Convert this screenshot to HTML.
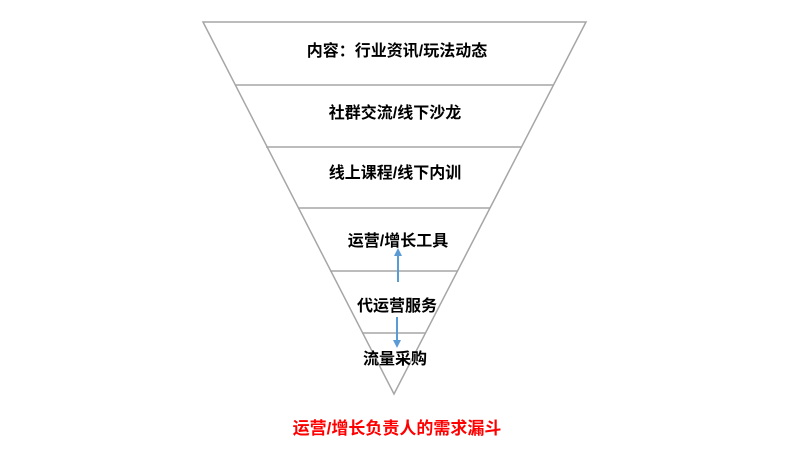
<!DOCTYPE html>
<html><head><meta charset="utf-8"><style>
html,body{margin:0;padding:0;background:#fff;}
svg{display:block;}
text{font-family:"Liberation Sans","Noto Sans CJK SC",sans-serif;font-weight:bold;font-size:16px;text-anchor:middle;}
</style></head><body>
<svg width="803" height="450" viewBox="0 0 803 450" xmlns="http://www.w3.org/2000/svg">
<defs>
<marker id="ah" markerWidth="8" markerHeight="8" refX="4" refY="4" orient="auto" markerUnits="userSpaceOnUse">
<path d="M0,0 L8,4 L0,8 z" fill="#5b9bd5"/>
</marker>
</defs>
<polygon points="203,22 586,22 394,394" fill="#fff" stroke="#a6a6a6" stroke-width="1.5"/>
<g stroke="#a6a6a6" stroke-width="1.5">
<line x1="235" y1="85" x2="554" y2="85"/>
<line x1="266" y1="147" x2="522" y2="147"/>
<line x1="298" y1="208" x2="490" y2="208"/>
<line x1="330" y1="271" x2="458" y2="271"/>
<line x1="362" y1="333" x2="426" y2="333"/>
</g>
<text x="397" y="56">内容：行业资讯/玩法动态</text>
<text x="395" y="118">社群交流/线下沙龙</text>
<text x="395" y="178">线上课程/线下内训</text>
<text x="398" y="246">运营/增长工具</text>
<text x="397" y="311">代运营服务</text>
<text x="395" y="364">流量采购</text>
<line x1="398" y1="282" x2="398" y2="252" stroke="#5b9bd5" stroke-width="2" marker-end="url(#ah)"/>
<line x1="397" y1="317" x2="397" y2="344" stroke="#5b9bd5" stroke-width="2" marker-end="url(#ah)"/>
<text x="397" y="434" fill="#ff0000" style="font-size:17px">运营/增长负责人的需求漏斗</text>
</svg>
</body></html>
